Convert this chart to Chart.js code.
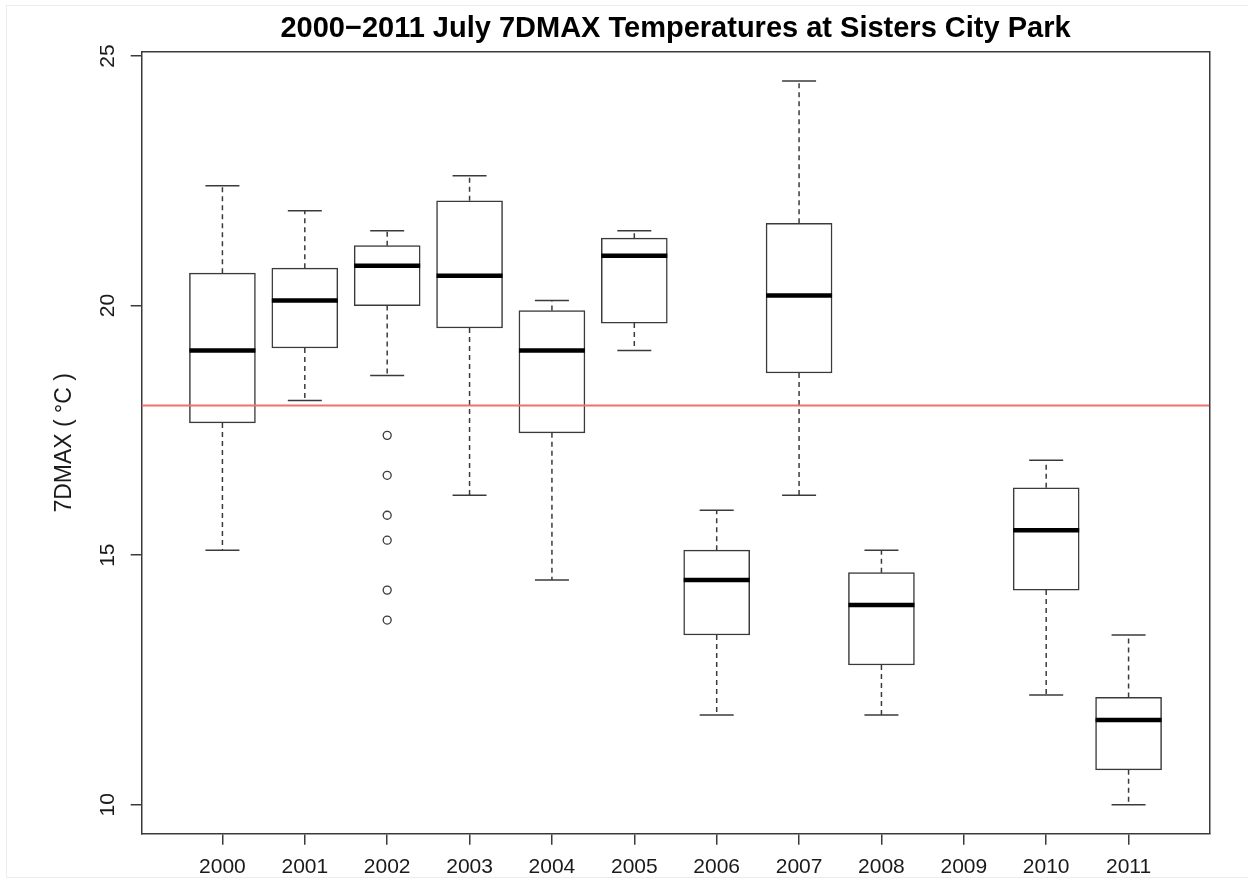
<!DOCTYPE html>
<html><head><meta charset="utf-8">
<script src="https://cdn.jsdelivr.net/npm/chart.js@4.4.1/dist/chart.umd.min.js"></script>
<style>
html,body{margin:0;padding:0;background:#fff;}
#frame{position:absolute;left:6px;top:5px;width:1250px;height:871px;border:1px solid #ececec;}
#c{position:absolute;left:0;top:0;}
</style></head><body>
<div id="frame"></div>
<canvas id="c" width="1248" height="880"></canvas>
<script>
const years = ['2000','2001','2002','2003','2004','2005','2006','2007','2008','2009','2010','2011'];
const whiskerLow  = [15.1, 18.1, 18.6, 16.2, 14.5, 19.1, 11.8, 16.2, 11.8, null, 12.2, 10.0];
const q1          = [17.65, 19.15, 20.0, 19.55, 17.45, 19.65, 13.4, 18.65, 12.8, null, 14.3, 10.7];
const median      = [19.1, 20.1, 20.8, 20.6, 19.1, 21.0, 14.5, 20.2, 14.0, null, 15.5, 11.7];
const q3          = [20.65, 20.75, 21.2, 22.1, 19.9, 21.35, 15.1, 21.65, 14.65, null, 16.35, 12.15];
const whiskerHigh = [22.4, 21.9, 21.5, 22.6, 20.1, 21.5, 15.9, 24.5, 15.1, null, 16.9, 13.4];
const outlierYear = '2002';
const outlierValues = [17.4, 16.6, 15.8, 15.3, 14.3, 13.7];
const threshold = 18;
const yTicks = [10, 15, 20, 25];
const titleText = '2000\u22122011 July 7DMAX Temperatures at Sisters City Park';
const yLabel = '7DMAX ( \u00B0C )';

const FAM = "'Liberation Sans', Arial, Helvetica, sans-serif";
const INK = '#3a3a3a';
const idx = years.map((_, i) => i).filter(i => median[i] !== null);
const boxes = idx.map(i => ({x: i + 1, y: [q1[i], q3[i]]}));
const meds = idx.map(i => ({x: i + 1, y: median[i]}));
const caps = idx.flatMap(i => [{x: i + 1, y: whiskerLow[i]}, {x: i + 1, y: whiskerHigh[i]}]);
const whiskers = idx.flatMap(i => [
  {x: i + 1, y: q3[i]}, {x: i + 1, y: whiskerHigh[i]}, {x: i + 1, y: null},
  {x: i + 1, y: q1[i]}, {x: i + 1, y: whiskerLow[i]}, {x: i + 1, y: null}
]);
const oPos = years.indexOf(outlierYear) + 1;
const outl = outlierValues.map(v => ({x: oPos, y: v}));
const xMin = 0.02, xMax = years.length + 0.98;

new Chart(document.getElementById('c'), {
  type: 'scatter',
  data: {
    datasets: [
      {type: 'line', data: [{x: xMin, y: threshold}, {x: xMax, y: threshold}],
       borderColor: '#f07070', borderWidth: 2, pointRadius: 0, fill: false},
      {type: 'scatter', data: meds, showLine: false, pointStyle: 'line', pointRadius: 33,
       pointBorderWidth: 4.5, pointBorderColor: '#000', pointBackgroundColor: '#000'},
      {type: 'scatter', data: outl, showLine: false, pointStyle: 'circle', pointRadius: 4,
       pointBorderWidth: 1.3, pointBorderColor: INK, pointBackgroundColor: 'rgba(0,0,0,0)'},
      {type: 'scatter', data: caps, showLine: false, pointStyle: 'line', pointRadius: 17,
       pointBorderWidth: 1.5, pointBorderColor: INK},
      {type: 'bar', data: boxes, barThickness: 66, backgroundColor: '#fff',
       borderColor: INK, borderWidth: 1.5, borderSkipped: false},
      {type: 'line', data: whiskers, spanGaps: false, borderColor: INK, borderWidth: 1.5,
       borderDash: [5, 4], pointRadius: 0, fill: false}
    ]
  },
  options: {
    responsive: false, animation: false, events: [],
    layout: {padding: 0},
    plugins: {
      legend: {display: false}, tooltip: {enabled: false},
      title: {display: true, text: titleText, fullSize: false, color: '#000',
        font: {family: FAM, size: 29, weight: 'bold', lineHeight: 1.2},
        padding: {top: 11.6, bottom: 5.6}}
    },
    scales: {
      x: {type: 'linear', position: 'bottom', min: xMin, max: xMax, offset: false,
        afterBuildTicks: s => { s.ticks = years.map((_, i) => ({value: i + 1})); },
        afterFit: s => { s.height = 46.3; },
        ticks: {autoSkip: false, minRotation: 0, maxRotation: 0, padding: 10, color: '#1a1a1a',
          font: {family: FAM, size: 21}, callback: v => years[Math.round(v) - 1]},
        grid: {offset: false, drawOnChartArea: false, drawTicks: true, tickLength: 11, color: INK, lineWidth: 1.5},
        border: {display: true, color: INK, width: 1.5}
      },
      y: {type: 'linear', position: 'left', min: 9.42, max: 25.08,
        afterBuildTicks: s => { s.ticks = yTicks.map(v => ({value: v})); },
        afterFit: s => { s.width = 141.7; },
        ticks: {minRotation: 90, maxRotation: 90, crossAlign: 'center', padding: 11, color: '#1a1a1a',
          font: {family: FAM, size: 21}},
        grid: {drawOnChartArea: false, drawTicks: true, tickLength: 11, color: INK, lineWidth: 1.5},
        border: {display: true, color: INK, width: 1.5},
        title: {display: true, text: yLabel, color: '#1a1a1a', font: {family: FAM, size: 23, lineHeight: 1.2},
          padding: {top: 51.2, bottom: 0}}
      },
      x2: {type: 'linear', position: 'top', display: true, min: 0, max: 1,
        afterFit: s => { s.height = 0; },
        ticks: {display: false},
        grid: {drawOnChartArea: false, drawTicks: false},
        border: {display: true, color: INK, width: 1.5}
      },
      y2: {type: 'linear', position: 'right', display: true, min: 0, max: 1,
        afterFit: s => { s.width = 38.7; },
        ticks: {display: false},
        grid: {drawOnChartArea: false, drawTicks: false},
        border: {display: true, color: INK, width: 1.5}
      }
    }
  }
});
</script>
</body></html>
